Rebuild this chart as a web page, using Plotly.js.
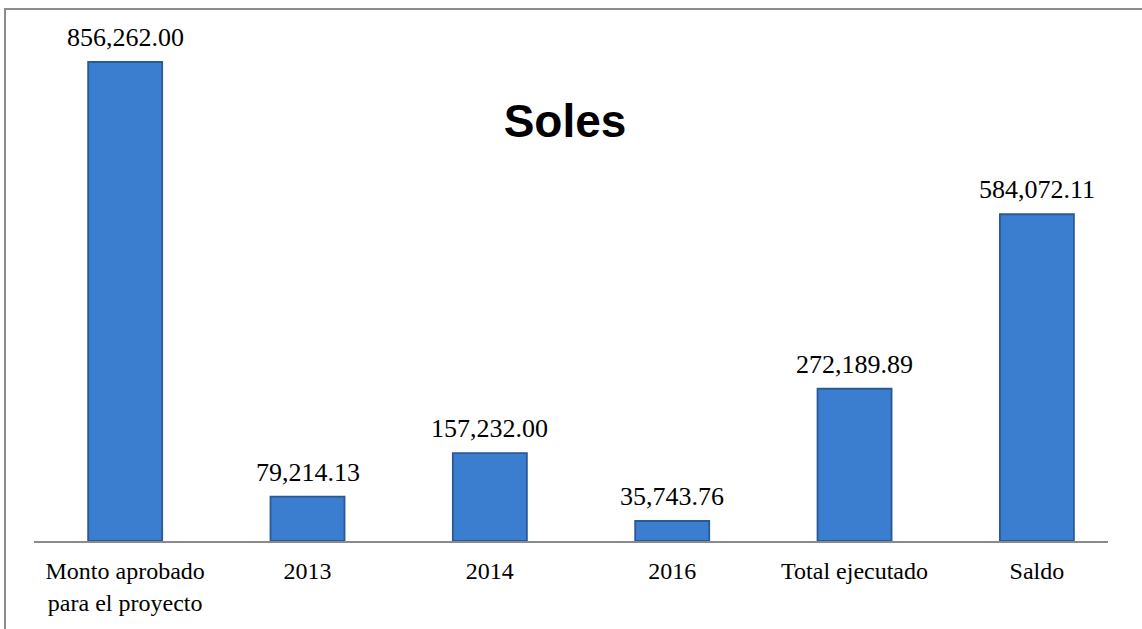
<!DOCTYPE html>
<html>
<head>
<meta charset="utf-8">
<script src="https://cdn.plot.ly/plotly-3.0.1.min.js"></script>
<style>
  html, body { margin: 0; padding: 0; overflow: hidden; background: #fff; }
  #wrap { position: relative; width: 1142px; height: 629px; }
  #chart { position: absolute; left: 0; top: 0; width: 1142px; height: 629px; }
  #frame { position: absolute; left: 4px; top: 8px; width: 1150px; height: 640px;
           border: 2px solid #8c8c8c; box-sizing: border-box; pointer-events: none; }
</style>
</head>
<body>
<div id="wrap">
  <div id="chart"></div>
  <div id="frame"></div>
</div>
<script>
const categories = ["Monto aprobado<br>para el proyecto", "2013", "2014", "2016", "Total ejecutado", "Saldo"];
const values = [856262.00, 79214.13, 157232.00, 35743.76, 272189.89, 584072.11];
const chartTitle = "Soles";

const fmt = v => v.toLocaleString("en-US", { minimumFractionDigits: 2, maximumFractionDigits: 2 });

const trace = {
  type: "bar",
  x: categories,
  y: values,
  marker: {
    color: "#3b7dcf",
    line: { color: "#2a5996", width: 1.8 }
  },
  hoverinfo: "none"
};

// category index positions (category axis treats numeric-looking strings as indices)
const annotations = categories.map((c, i) => ({
  x: i,
  y: values[i],
  xref: "x",
  yref: "y",
  text: fmt(values[i]),
  showarrow: false,
  yanchor: "bottom",
  xanchor: "center",
  yshift: 8,
  font: { family: "Liberation Serif, Times New Roman, serif", size: 26, color: "#000" }
}));

const layout = {
  width: 1142,
  height: 629,
  margin: { l: 34, r: 34, t: 20, b: 88 },
  paper_bgcolor: "rgba(0,0,0,0)",
  plot_bgcolor: "rgba(0,0,0,0)",
  bargap: 0.594,
  showlegend: false,
  title: {
    text: "<b>" + chartTitle + "</b>",
    font: { family: "Liberation Sans, Arial, sans-serif", size: 46, color: "#000" },
    x: 565 / 1142, xanchor: "center", xref: "container",
    y: 1 - 121 / 629, yanchor: "middle", yref: "container"
  },
  annotations: annotations,
  xaxis: {
    type: "category",
    range: [-0.5, 5.39],
    showline: true,
    linecolor: "#8a8a8a",
    linewidth: 1.5,
    ticks: "",
    ticklabelstandoff: 8,
    showgrid: false,
    zeroline: false,
    tickfont: { family: "Liberation Serif, Times New Roman, serif", size: 24, color: "#000" },
    automargin: false
  },
  yaxis: {
    range: [0, 856262 * 521 / 479],
    visible: false,
    showgrid: false,
    zeroline: false,
    fixedrange: true
  },
  font: { family: "Liberation Serif, Times New Roman, serif" }
};

Plotly.newPlot("chart", [trace], layout, { staticPlot: true, displayModeBar: false });
</script>
</body>
</html>
